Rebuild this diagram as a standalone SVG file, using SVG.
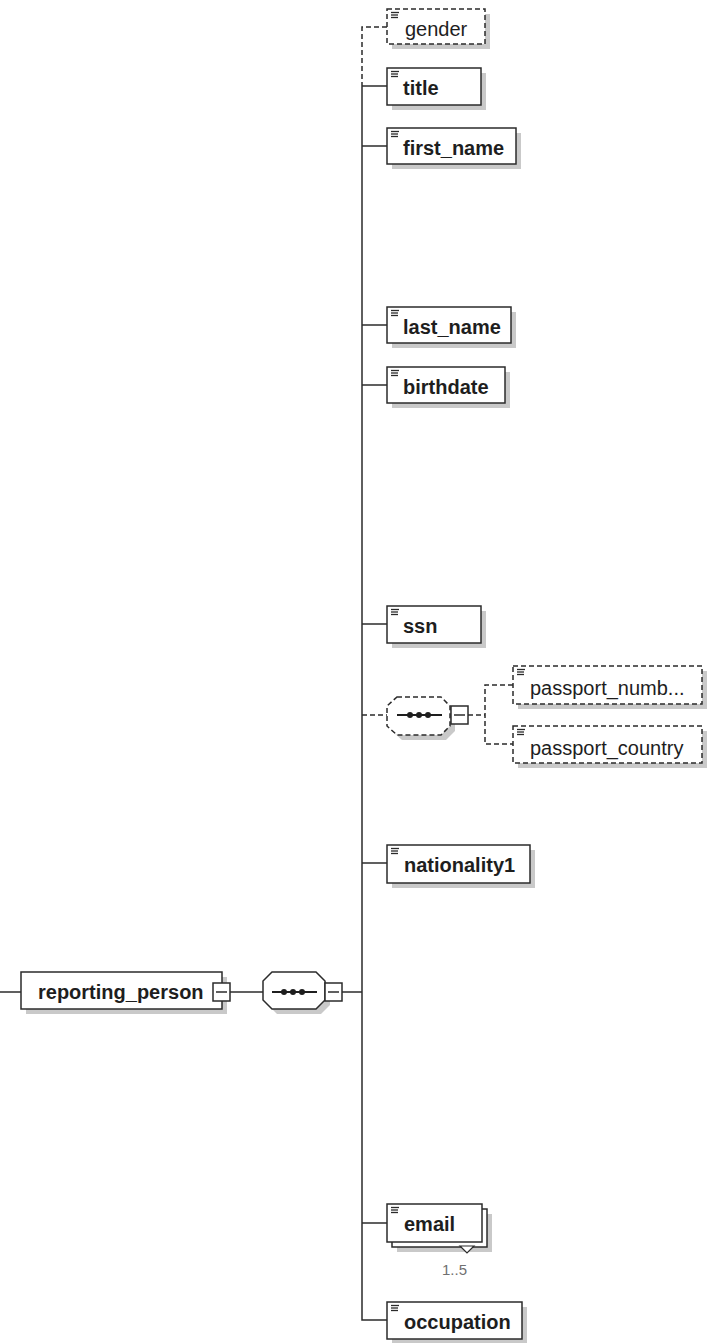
<svg xmlns="http://www.w3.org/2000/svg" width="709" height="1343" viewBox="0 0 709 1343">
<style>
.bg{fill:#ffffff}
.sh{fill:#c9c9c9}
.box{fill:#ffffff;stroke:#2b2b2b;stroke-width:1.5}
.dbox{fill:#ffffff;stroke:#2b2b2b;stroke-width:1.5;stroke-dasharray:5,3}
.ln{fill:none;stroke:#2b2b2b;stroke-width:1.5}
.sym{fill:none;stroke:#1e1e1e;stroke-width:2}
.dln{fill:none;stroke:#2b2b2b;stroke-width:1.5;stroke-dasharray:5,3}
.ic{stroke:#2b2b2b;stroke-width:1.3}
.tb{font-family:"Liberation Sans",Arial,sans-serif;font-weight:bold;font-size:20px;fill:#1e1e1e}
.tn{font-family:"Liberation Sans",Arial,sans-serif;font-size:20px;fill:#1e1e1e}
.occ{font-family:"Liberation Sans",Arial,sans-serif;font-size:15px;fill:#707070}
</style>
<defs>
<g id="icon"><line class="ic" x1="0" y1="0.5" x2="8" y2="0.5"/><line class="ic" x1="0" y1="3" x2="7" y2="3"/><line class="ic" x1="0" y1="5.5" x2="7" y2="5.5"/></g>
<g id="minus"><rect x="0" y="0" width="17" height="18" fill="#ffffff" stroke="#2b2b2b" stroke-width="1.5"/><line x1="3" y1="9" x2="14" y2="9" stroke="#2b2b2b" stroke-width="1.5"/></g>
</defs>
<rect class="bg" x="0" y="0" width="709" height="1343"/>

<g id="connectors">
<path class="ln" d="M0,992 H21"/>
<path class="ln" d="M230,992 H263"/>
<path class="ln" d="M342,992 H362"/>
<path class="dln" d="M387,27 H362 V86"/>
<path class="ln" d="M362,86 V1320 H387"/>
<path class="ln" d="M362,86 H387"/>
<path class="ln" d="M362,146 H387"/>
<path class="ln" d="M362,325 H387"/>
<path class="ln" d="M362,385 H387"/>
<path class="ln" d="M362,624 H387"/>
<path class="dln" d="M362,715 H387"/>
<path class="dln" d="M468,715 H485"/>
<path class="dln" d="M513,685 H485 V744 H513"/>
<path class="ln" d="M362,863 H387"/>
<path class="ln" d="M362,1223 H387"/>
</g>

<g id="reporting_person">
<rect class="sh" x="26" y="977" width="201" height="37"/>
<rect class="box" x="21" y="972" width="201" height="37"/>
<text class="tb" x="38" y="999">reporting_person</text>
<use href="#minus" x="213" y="983"/>
</g>

<g id="sequence">
<path class="sh" d="M277,977 H321 L330,986 V1005 L321,1014 H277 L268,1005 V986 Z"/>
<path class="box" d="M272,972 H316 L325,981 V1000 L316,1009 H272 L263,1000 V981 Z"/>
<line class="sym" x1="272" y1="992" x2="317" y2="992"/>
<circle cx="284" cy="992" r="3" fill="#1e1e1e"/>
<circle cx="293" cy="992" r="3" fill="#1e1e1e"/>
<circle cx="302" cy="992" r="3" fill="#1e1e1e"/>
<use href="#minus" x="325" y="983"/>
</g>

<g id="gender">
<rect class="sh" x="392" y="14" width="98" height="35"/>
<rect class="dbox" x="387" y="9" width="98" height="35"/>
<use href="#icon" x="391" y="12"/>
<text class="tn" x="405" y="36">gender</text>
</g>

<g id="title">
<rect class="sh" x="392" y="73" width="94" height="37"/>
<rect class="box" x="387" y="68" width="94" height="37"/>
<use href="#icon" x="391" y="71"/>
<text class="tb" x="403" y="95">title</text>
</g>

<g id="first_name">
<rect class="sh" x="392" y="133" width="129" height="36"/>
<rect class="box" x="387" y="128" width="129" height="36"/>
<use href="#icon" x="391" y="131"/>
<text class="tb" x="403" y="155">first_name</text>
</g>

<g id="last_name">
<rect class="sh" x="392" y="312" width="124" height="36"/>
<rect class="box" x="387" y="307" width="124" height="36"/>
<use href="#icon" x="391" y="310"/>
<text class="tb" x="403" y="334">last_name</text>
</g>

<g id="birthdate">
<rect class="sh" x="392" y="372" width="118" height="36"/>
<rect class="box" x="387" y="367" width="118" height="36"/>
<use href="#icon" x="391" y="370"/>
<text class="tb" x="403" y="394">birthdate</text>
</g>

<g id="ssn">
<rect class="sh" x="392" y="611" width="94" height="37"/>
<rect class="box" x="387" y="606" width="94" height="37"/>
<use href="#icon" x="391" y="609"/>
<text class="tb" x="403" y="633">ssn</text>
</g>

<g id="passport_sequence">
<path class="sh" d="M402,702 H446 L455,711 V731 L446,740 H402 L392,731 V711 Z"/>
<path class="dbox" d="M397,697 H441 L450,706 V726 L441,735 H397 L387,726 V706 Z"/>
<line class="sym" x1="397" y1="715" x2="442" y2="715"/>
<circle cx="410" cy="715" r="3" fill="#1e1e1e"/>
<circle cx="419" cy="715" r="3" fill="#1e1e1e"/>
<circle cx="428" cy="715" r="3" fill="#1e1e1e"/>
<use href="#minus" x="451" y="706"/>
</g>

<g id="passport_number">
<rect class="sh" x="518" y="671" width="189" height="38"/>
<rect class="dbox" x="513" y="666" width="189" height="38"/>
<use href="#icon" x="517" y="669"/>
<text class="tn" x="530" y="695">passport_numb...</text>
</g>

<g id="passport_country">
<rect class="sh" x="518" y="731" width="189" height="37"/>
<rect class="dbox" x="513" y="726" width="189" height="37"/>
<use href="#icon" x="517" y="729"/>
<text class="tn" x="530" y="755">passport_country</text>
</g>

<g id="nationality1">
<rect class="sh" x="392" y="850" width="143" height="38"/>
<rect class="box" x="387" y="845" width="143" height="38"/>
<use href="#icon" x="391" y="848"/>
<text class="tb" x="404" y="872">nationality1</text>
</g>

<g id="email">
<rect class="sh" x="397" y="1214" width="95" height="38"/>
<rect class="box" x="392" y="1209" width="95" height="38"/>
<rect class="box" x="387" y="1204" width="95" height="38"/>
<use href="#icon" x="391" y="1207"/>
<text class="tb" x="404" y="1231">email</text>
<path d="M460,1246 H474 L467,1253 Z" fill="#ffffff" stroke="#2b2b2b" stroke-width="1.2"/>
<text class="occ" x="442" y="1275">1..5</text>
</g>

<g id="occupation">
<rect class="sh" x="392" y="1307" width="135" height="37"/>
<rect class="box" x="387" y="1302" width="135" height="37"/>
<use href="#icon" x="391" y="1305"/>
<text class="tb" x="404" y="1329">occupation</text>
</g>
</svg>
